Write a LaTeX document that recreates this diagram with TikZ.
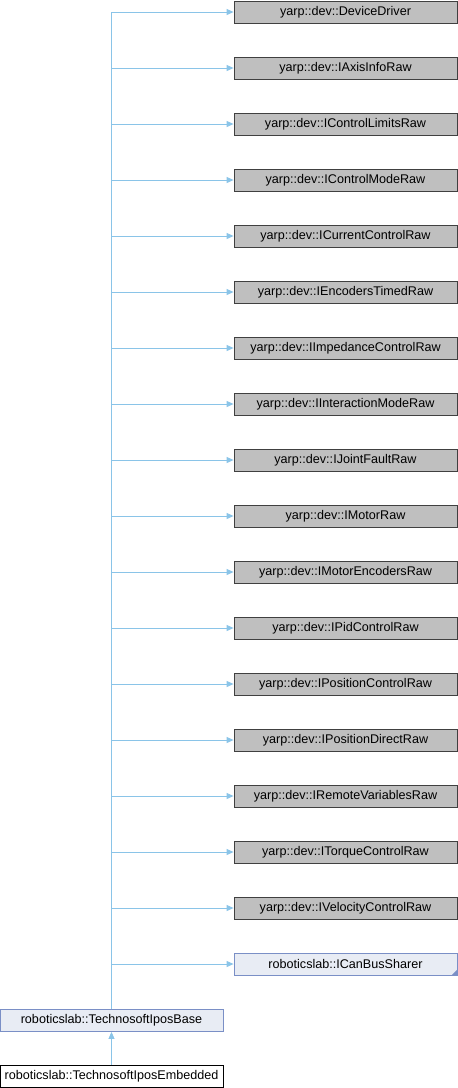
\documentclass[tikz,border=0pt]{standalone}
\usepackage{fontspec}
\setmainfont{Liberation Sans}
\usetikzlibrary{arrows.meta}
\definecolor{edgecol}{RGB}{138,196,232}
\definecolor{grayfill}{RGB}{191,191,191}
\definecolor{grayline}{RGB}{64,64,64}
\definecolor{bluefill}{RGB}{232,236,244}
\definecolor{blueline}{RGB}{122,143,198}
\tikzset{
  box/.style={rectangle, minimum width=223pt, minimum height=22pt, inner sep=0pt, font=\fontsize{12.6}{14}\selectfont, line width=0.8pt},
  graybox/.style={box, draw=grayline, fill=grayfill},
  bluebox/.style={box, draw=blueline, fill=bluefill},
  plainbox/.style={box, draw=black, fill=white},
  inh/.style={draw=edgecol, line width=0.9pt, -{Triangle[length=7pt,width=6pt]}},
}
\begin{document}
\begin{tikzpicture}[x=1pt,y=-1pt]
\useasboundingbox (0,0) rectangle (458,1088);
\foreach \n [count=\i from 0] in {DeviceDriver,IAxisInfoRaw,IControlLimitsRaw,IControlModeRaw,ICurrentControlRaw,IEncodersTimedRaw,IImpedanceControlRaw,IInteractionModeRaw,IJointFaultRaw,IMotorRaw,IMotorEncodersRaw,IPidControlRaw,IPositionControlRaw,IPositionDirectRaw,IRemoteVariablesRaw,ITorqueControlRaw,IVelocityControlRaw}{
  \node[graybox] (b\i) at (345.5,{12+56*\i}) {yarp::dev::\n};
}
\node[bluebox] (b17) at (345.5,964) {roboticslab::ICanBusSharer};
\fill[blueline] (b17.south east) -- ++(0,-6) -- ++(-6,6) -- cycle;
\node[bluebox] (base) at (111.5,1020.5) {roboticslab::TechnosoftIposBase};
\node[plainbox] (emb) at (111.5,1076) {roboticslab::TechnosoftIposEmbedded};
\foreach \i in {0,...,17}{
  \draw[inh] (base.north) |- (b\i.west);
}
\draw[inh] (emb.north) -- (base.south);
\end{tikzpicture}
\end{document}
